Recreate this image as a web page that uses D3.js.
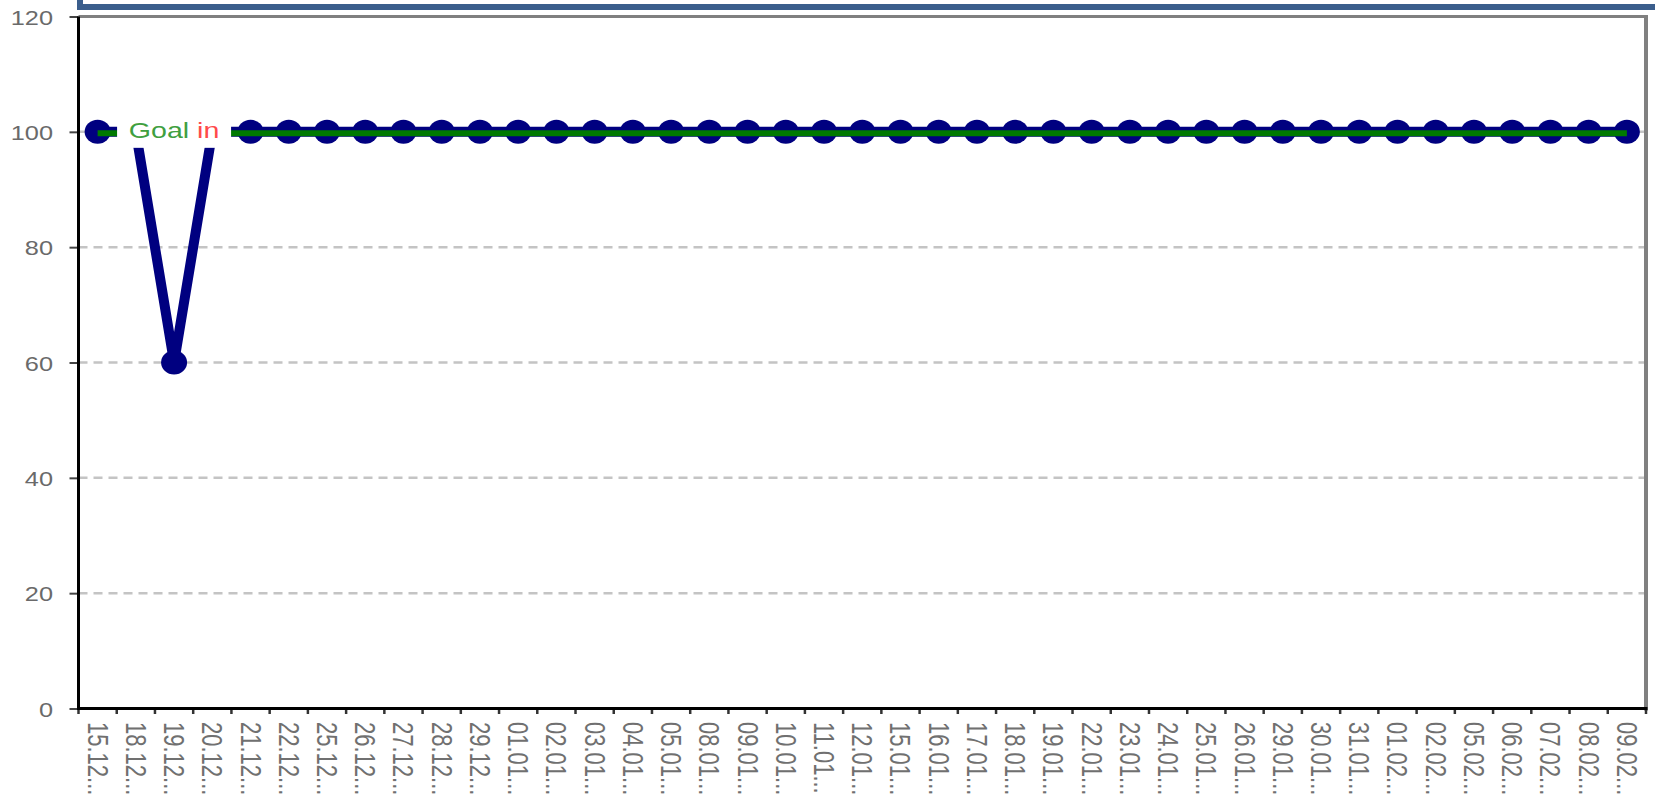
<!DOCTYPE html>
<html>
<head>
<meta charset="utf-8">
<script src="https://cdn.jsdelivr.net/npm/d3@7"></script>
<style>
  html, body { margin: 0; padding: 0; background: #fff; }
  svg { display: block; font-family: "Liberation Sans", Arial, sans-serif; }
</style>
</head>
<body>
<svg id="chart" width="1655" height="808"></svg>
<script>
// Trading days on the horizontal axis
const categories = [
  "15.12", "18.12", "19.12", "20.12", "21.12", "22.12", "25.12", "26.12", "27.12", "28.12",
  "29.12", "01.01", "02.01", "03.01", "04.01", "05.01", "08.01", "09.01", "10.01", "11.01",
  "12.01", "15.01", "16.01", "17.01", "18.01", "19.01", "22.01", "23.01", "24.01", "25.01",
  "26.01", "29.01", "30.01", "31.01", "01.02", "02.02", "05.02", "06.02", "07.02", "08.02",
  "09.02"
];

// Measured value for each day
const values = [
  100, 100, 60, 100, 100, 100, 100, 100, 100, 100,
  100, 100, 100, 100, 100, 100, 100, 100, 100, 100,
  100, 100, 100, 100, 100, 100, 100, 100, 100, 100,
  100, 100, 100, 100, 100, 100, 100, 100, 100, 100,
  100
];

// Target level and its caption
const goalValue = 100;
const goalLabelParts = ["Goal", "in"];
const goalLabelCategory = "19.12";

// Value axis ticks
const yTicks = [0, 20, 40, 60, 80, 100, 120];
const gridTicks = [20, 40, 60, 80, 100];

const svg = d3.select("#chart");
const textStretch = 1.3;

const plot = { left: 78.5, right: 1646, top: 16.5, bottom: 708.5 };

const x = d3.scaleBand().domain(categories).range([plot.left, plot.right]).paddingInner(0).paddingOuter(0);
const y = d3.scaleLinear().domain([0, 120]).range([plot.bottom, plot.top]);
const cx = c => x(c) + x.bandwidth() / 2;

// Header box (its lower edge shows at the top of the page)
svg.append("rect")
  .attr("x", 80).attr("y", -60)
  .attr("width", 1700).attr("height", 67)
  .attr("fill", "#fff")
  .attr("stroke", "#3b5e8c")
  .attr("stroke-width", 6);

// Dashed horizontal grid
svg.append("g")
  .selectAll("line")
  .data(gridTicks)
  .join("line")
  .attr("x1", plot.left).attr("x2", plot.right)
  .attr("y1", d => y(d)).attr("y2", d => y(d))
  .attr("stroke", "#c4c4c4")
  .attr("stroke-width", 2.5)
  .attr("stroke-dasharray", "9,6");

// Plot frame: top and right edges
svg.append("line")
  .attr("x1", plot.left).attr("x2", plot.right + 2)
  .attr("y1", y(120)).attr("y2", y(120))
  .attr("stroke", "#808080").attr("stroke-width", 3);
svg.append("line")
  .attr("x1", plot.right).attr("x2", plot.right)
  .attr("y1", y(120) - 1.5).attr("y2", y(0) + 2)
  .attr("stroke", "#808080").attr("stroke-width", 4);

// Series line
const points = categories.map((c, i) => ({ c, v: values[i] }));
svg.append("path")
  .datum(points)
  .attr("fill", "none")
  .attr("stroke", "#000080")
  .attr("stroke-width", 10)
  .attr("stroke-linejoin", "round")
  .attr("d", d3.line().x(d => cx(d.c)).y(d => y(d.v)));

// Series markers
svg.append("g")
  .selectAll("ellipse")
  .data(points)
  .join("ellipse")
  .attr("cx", d => cx(d.c))
  .attr("cy", d => y(d.v))
  .attr("rx", 13).attr("ry", 12)
  .attr("fill", "#000080");

// Goal line
svg.append("line")
  .attr("x1", cx(categories[0])).attr("x2", cx(categories[categories.length - 1]))
  .attr("y1", y(goalValue) + 1.5).attr("y2", y(goalValue) + 1.5)
  .attr("stroke", "#007a00")
  .attr("stroke-width", 6);

// Goal caption on a white plate
const goalG = svg.append("g")
  .attr("transform", `translate(${cx(goalLabelCategory)},${y(goalValue)}) scale(${textStretch},1)`);
const plate = goalG.append("rect").attr("fill", "#fff");
const goalText = goalG.append("text")
  .attr("text-anchor", "middle")
  .attr("y", 6)
  .attr("font-size", 22);
goalText.append("tspan").attr("fill", "#3f9f3f").text(goalLabelParts[0] + " ");
goalText.append("tspan").attr("fill", "#ff4a4a").text(goalLabelParts[1]);
const bb = goalText.node().getBBox();
plate.attr("x", bb.x - 9).attr("width", bb.width + 18)
  .attr("y", -18).attr("height", 34);

// Value axis
const yAxis = svg.append("g")
  .attr("transform", `translate(${plot.left},0)`)
  .call(d3.axisLeft(y).tickValues(yTicks).tickSize(9).tickSizeOuter(0));
yAxis.select(".domain").remove();
yAxis.selectAll(".tick line").attr("stroke", "#444").attr("stroke-width", 2);
yAxis.selectAll(".tick text")
  .attr("x", null).attr("dy", null)
  .attr("transform", `translate(-25.5,7.5) scale(${textStretch},1)`)
  .attr("text-anchor", "end")
  .attr("font-size", 19.5)
  .attr("font-family", "\"Liberation Sans\", Arial, sans-serif")
  .attr("fill", "#6a6a6a");
svg.append("line")
  .attr("x1", plot.left).attr("x2", plot.left)
  .attr("y1", y(120)).attr("y2", y(0) + 1.5)
  .attr("stroke", "#000").attr("stroke-width", 3);

// Category axis
svg.append("line")
  .attr("x1", plot.left - 1.5).attr("x2", plot.right + 1.5)
  .attr("y1", y(0)).attr("y2", y(0))
  .attr("stroke", "#000").attr("stroke-width", 3);

const boundaries = categories.map(c => x(c)).concat([plot.right]);
svg.append("g")
  .selectAll("line")
  .data(boundaries)
  .join("line")
  .attr("x1", d => d).attr("x2", d => d)
  .attr("y1", y(0) + 1.5).attr("y2", y(0) + 5.5)
  .attr("stroke", "#333").attr("stroke-width", 2.5);

svg.append("g")
  .selectAll("text")
  .data(categories)
  .join("text")
  .attr("transform", d => `translate(${cx(d) - 10},722) scale(${textStretch},1) rotate(90)`)
  .attr("text-anchor", "start")
  .attr("font-size", 22)
  .attr("fill", "#707070")
  .text(d => d + "...");
</script>
</body>
</html>
